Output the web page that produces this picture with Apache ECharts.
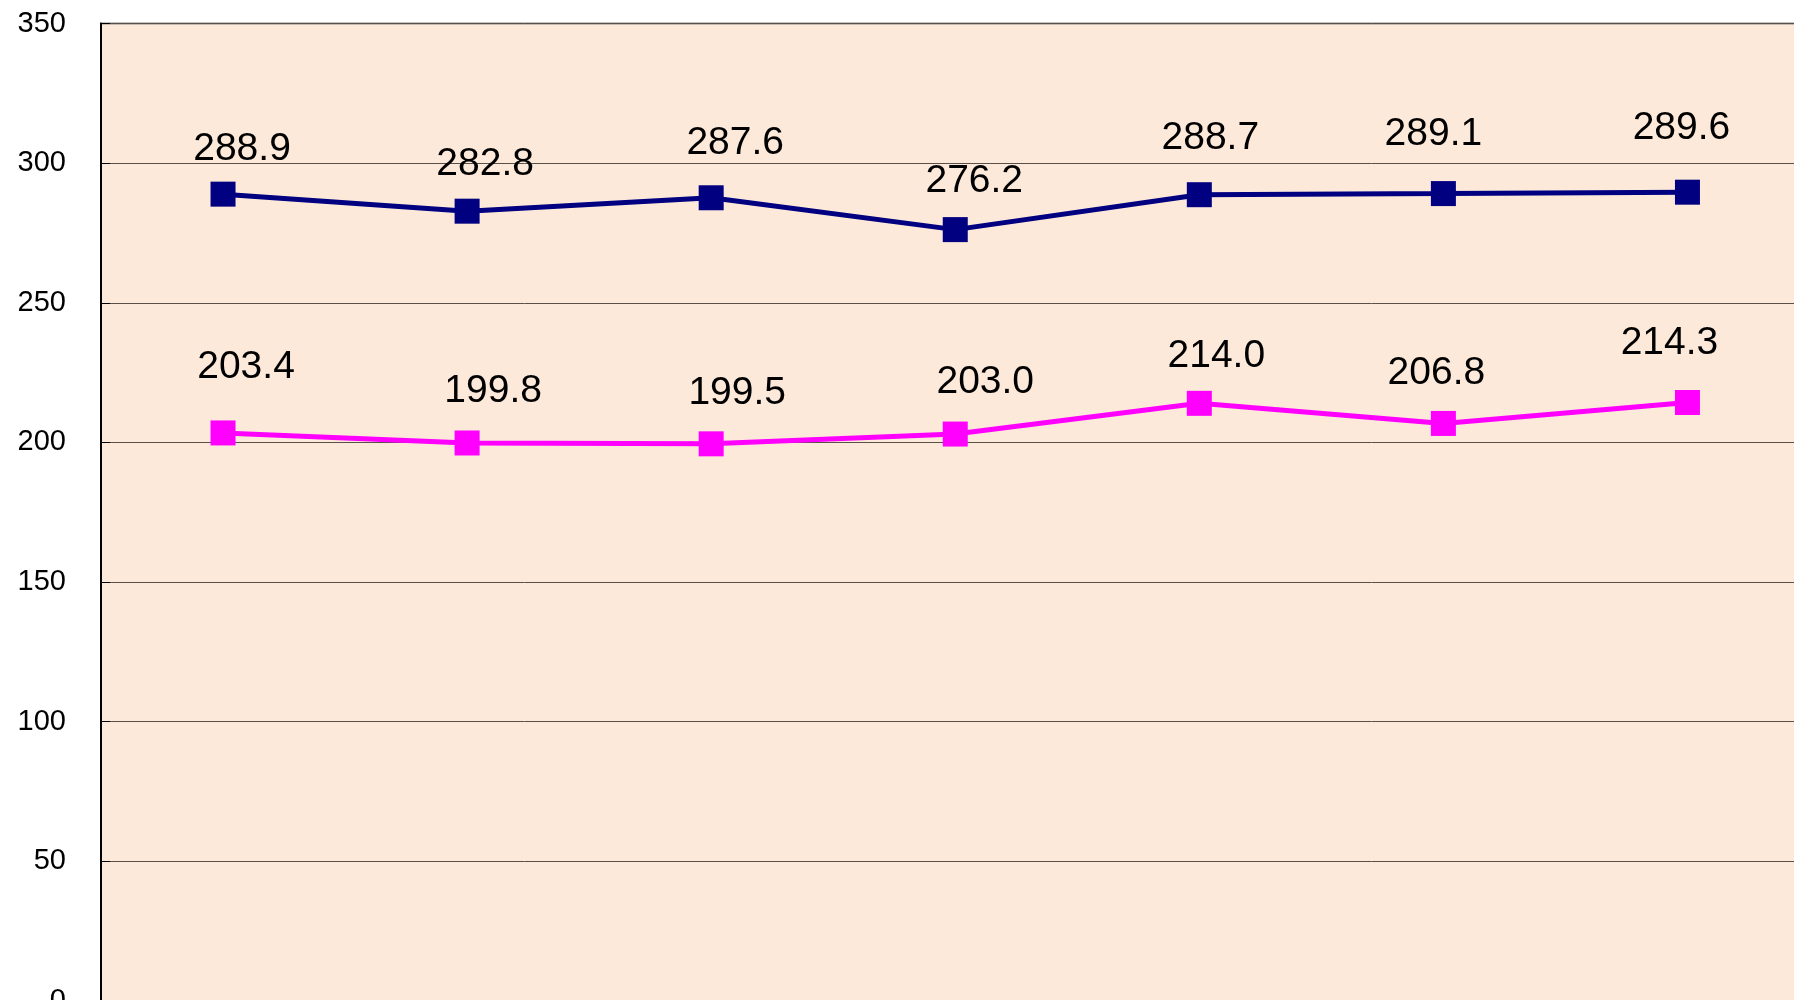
<!DOCTYPE html>
<html>
<head>
<meta charset="utf-8">
<script src="https://cdn.jsdelivr.net/npm/echarts@6/dist/echarts.min.js"></script>
<style>
html,body{margin:0;padding:0;background:#fff;}
#chart{width:1794px;height:1000px;}
</style>
</head>
<body>
<div id="chart"></div>
<script>
// Data
const categories = ['1', '2', '3', '4', '5', '6', '7'];
const seriesNavy = [288.9, 282.8, 287.6, 276.2, 288.7, 289.1, 289.6];
const seriesMagenta = [203.4, 199.8, 199.5, 203.0, 214.0, 206.8, 214.3];
const yTicks = { min: 0, max: 350, interval: 50 };

// Layout: label offsets (px) relative to each marker
const navyLabelOffsets = [[19,-45],[18,-47],[24,-55],[19,-48],[11,-56],[-10,-59],[-6,-64]];
const magentaLabelOffsets = [[23,-66],[26,-52],[26,-51],[30,-52],[17,-47],[-7,-50],[-18,-59]];

function build(values, offsets) {
  return values.map((v, i) => ({
    value: v,
    label: { offset: offsets[i] }
  }));
}

const chart = echarts.init(document.getElementById('chart'), null, { renderer: 'canvas' });
const labelStyle = {
  show: true,
  position: 'inside',
  color: '#000',
  fontFamily: '"Liberation Sans", Arial, sans-serif',
  fontSize: 39,
  formatter: p => p.value.toFixed(1)
};

chart.setOption({
  animation: false,
  backgroundColor: '#ffffff',
  grid: {
    left: 101, top: 23.5, right: -15.5, bottom: -1,
    outerBoundsMode: 'none',
    containLabel: false,
    show: true,
    backgroundColor: '#FDE9D9',
    borderColor: '#8a8a8a',
    borderWidth: 2
  },
  xAxis: {
    type: 'category',
    data: categories,
    boundaryGap: true,
    axisLine: { show: false },
    axisTick: { show: false },
    axisLabel: { show: false },
    splitLine: { show: false }
  },
  yAxis: {
    type: 'value',
    min: yTicks.min, max: yTicks.max, interval: yTicks.interval,
    axisLine: { show: true, lineStyle: { color: '#000', width: 2 } },
    axisTick: { show: true, inside: true, length: 9, lineStyle: { color: '#000', width: 1 } },
    axisLabel: {
      color: '#000',
      fontFamily: '"Liberation Sans", Arial, sans-serif',
      fontSize: 29,
      margin: 35
    },
    splitLine: { show: true, lineStyle: { color: '#5a5048', width: 1 } }
  },
  series: [
    {
      type: 'line',
      data: build(seriesNavy, navyLabelOffsets),
      symbol: 'rect',
      symbolSize: 25,
      lineStyle: { color: '#000080', width: 5 },
      itemStyle: { color: '#000080' },
      label: labelStyle,
      z: 3
    },
    {
      type: 'line',
      data: build(seriesMagenta, magentaLabelOffsets),
      symbol: 'rect',
      symbolSize: 25,
      lineStyle: { color: '#FF00FF', width: 5 },
      itemStyle: { color: '#FF00FF' },
      label: labelStyle,
      z: 3
    }
  ]
});
</script>
</body>
</html>
